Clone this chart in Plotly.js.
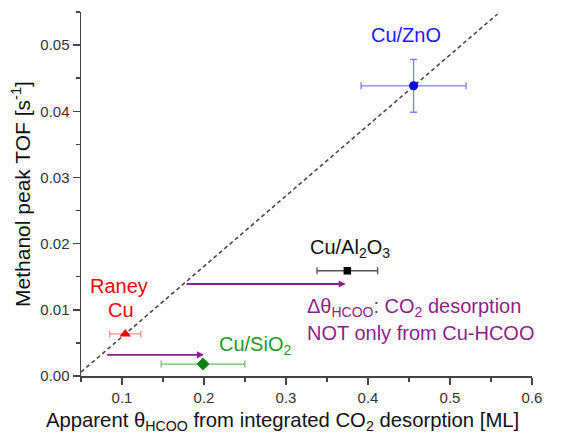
<!DOCTYPE html>
<html>
<head>
<meta charset="utf-8">
<script src="https://cdn.plot.ly/plotly-3.0.1.min.js"></script>
<style>html,body{margin:0;padding:0;background:#fff;}#chart{width:566px;height:443px;}</style>
</head>
<body>
<div id="chart"></div>
<script>
// ---- data ----
const samples = ['Cu/ZnO', 'Cu/Al2O3', 'Raney Cu', 'Cu/SiO2'];
const thetaHCOO = [0.4556, 0.3748, 0.104, 0.1988];      // apparent coverage [ML]
const thetaErr = [0.064, 0.037, 0.019, 0.051];
const tofMethanol = [0.04385, 0.0159, 0.00635, 0.0018]; // methanol peak TOF [1/s]
const tofErr = [0.004, 0, 0, 0];
const refLineX = [0.05, 0.558];
const refLineY = [0.0006, 0.0547];
const arrowTailX = [0.177, 0.080];
const arrowHeadX = [0.373, 0.200];
const arrowY = [0.0139, 0.0032];
const xTickVals = [0.1, 0.2, 0.3, 0.4, 0.5, 0.6];
const yTickVals = [0, 0.01, 0.02, 0.03, 0.04, 0.05];

const FONT = 'Liberation Sans, Arial, sans-serif';
const PURPLE = '#8b1f8b';
const styles = [
  {symbol: 'circle', size: 9, color: '#0000ff', err: '#7d7dff'},
  {symbol: 'square', size: 7.5, color: '#000000', err: '#555555'},
  {symbol: 'triangle-up', size: 10, color: '#ff0000', err: '#ff8a8a'},
  {symbol: 'diamond', size: 10, color: '#108010', err: '#6cbc6c'}
];

const traces = [{
  x: refLineX, y: refLineY, mode: 'lines', type: 'scatter',
  line: {color: '#4a4a4a', width: 1.6, dash: '4px,3px'}, hoverinfo: 'skip'
}];
samples.forEach((s, i) => {
  traces.push({
    x: [thetaHCOO[i]], y: [tofMethanol[i]], name: s, type: 'scatter', mode: 'markers',
    marker: {symbol: styles[i].symbol, size: styles[i].size, color: styles[i].color},
    error_x: {type: 'data', array: [thetaErr[i]], visible: true, color: styles[i].err, thickness: 1.3, width: 3.5},
    error_y: {type: 'data', array: [tofErr[i]], visible: tofErr[i] > 0, color: styles[i].err, thickness: 1.3, width: 3.5}
  });
});

const annotations = [];
arrowY.forEach((yv, i) => {
  annotations.push({
    x: arrowHeadX[i], y: yv, ax: arrowTailX[i], ay: yv,
    xref: 'x', yref: 'y', axref: 'x', ayref: 'y',
    text: '', showarrow: true, arrowhead: 2, arrowsize: 0.8, arrowwidth: 1.8,
    arrowcolor: PURPLE, standoff: 0, startstandoff: 0
  });
});
const txt = (text, x, y, color, xanchor) => ({
  text, x, y, xref: 'x', yref: 'y', showarrow: false, xanchor: xanchor || 'center', yanchor: 'middle',
  font: {family: FONT, size: 20, color}
});
annotations.push(txt('Cu/ZnO', 0.446, 0.0516, '#1a1aff'));
annotations.push(txt('Raney', 0.0959, 0.0136, '#ff0000'));
annotations.push(txt('Cu', 0.099, 0.0100, '#ff0000'));
annotations.push(txt('Cu/SiO<sub>2</sub>', 0.2159, 0.0046, '#1f991f', 'left'));
annotations.push(txt('Cu/Al<sub>2</sub>O<sub>3</sub>', 0.3263, 0.0193, '#111111', 'left'));
annotations.push(txt('Δθ<sub>HCOO</sub>: CO<sub>2</sub> desorption', 0.3235, 0.0103, PURPLE, 'left'));
annotations.push(txt('NOT only from Cu-HCOO', 0.3235, 0.0065, PURPLE, 'left'));
// x-axis title (placed as annotation so it can sit where the reference centres it)
annotations.push({
  text: 'Apparent θ<sub>HCOO</sub> from integrated CO<sub>2</sub> desorption [ML]',
  xref: 'paper', yref: 'paper', x: 0.4457, y: -0.086, xanchor: 'center', yanchor: 'top',
  showarrow: false, font: {family: FONT, size: 20.3, color: '#111'}
});

const axisCommon = {
  showgrid: false, zeroline: false, showline: true, linecolor: '#444', linewidth: 1.5,
  ticks: 'outside', ticklen: 7, tickwidth: 1.5, tickcolor: '#444',
  tickfont: {family: FONT, size: 15, color: '#333'}
};
const layout = {
  width: 566, height: 443,
  margin: {l: 81, r: 34, t: 12, b: 67},
  paper_bgcolor: '#fff', plot_bgcolor: '#fff',
  showlegend: false,
  font: {family: FONT},
  xaxis: Object.assign({}, axisCommon, {
    range: [0.05, 0.6], tickvals: xTickVals, tickformat: '.1f',
    minor: {dtick: 0.05, tick0: 0.05, ticks: 'outside', ticklen: 4, tickwidth: 1.5, tickcolor: '#444'}
  }),
  yaxis: Object.assign({}, axisCommon, {
    range: [0, 0.055], tickvals: yTickVals, tickformat: '.2f',
    minor: {dtick: 0.005, tick0: 0, ticks: 'outside', ticklen: 4, tickwidth: 1.5, tickcolor: '#444'},
    title: {text: 'Methanol peak TOF [s<sup>-1</sup>]',
      font: {family: FONT, size: 21, color: '#111'}, standoff: 4}
  }),
  annotations
};
Plotly.newPlot('chart', traces, layout, {displayModeBar: false, staticPlot: true});
</script>
</body>
</html>
